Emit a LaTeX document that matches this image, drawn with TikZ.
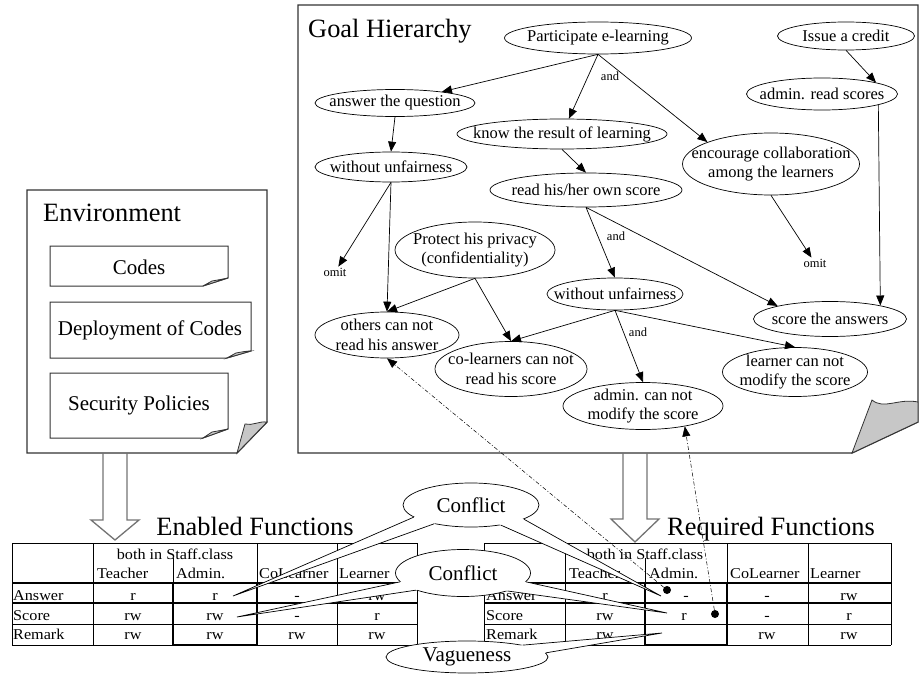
\documentclass[tikz,border=0pt]{standalone}
\usepackage{fontspec}
\setmainfont{Liberation Serif}
\newfontfamily\tabfont{Liberation Serif}[FakeStretch=1.08]
\usepackage{tikz}
\usetikzlibrary{shapes.geometric, arrows.meta, calc}

\begin{document}
\begin{tikzpicture}[x=1pt, y=-1pt]
	\useasboundingbox (0,0) rectangle (919,674);
	% Define styles
	\tikzstyle{page}=[draw=black!80, line width=1.4pt, fill=white, line join=miter]
	\tikzstyle{sheet}=[draw=black!80, line width=1pt, fill=white]
	\tikzstyle{curl}=[draw=black!80, line width=0.8pt, fill=black!22]
	\tikzstyle{heading}=[inner sep=0pt, font=\fontsize{26.4}{31}\selectfont]
	\tikzstyle{boxtext}=[inner sep=0pt, font=\fontsize{21}{25}\selectfont]
	\tikzstyle{goal}=[ellipse, draw, line width=0.7pt, inner sep=-30pt, align=center, font=\fontsize{16.5}{19.5}\selectfont]
	\tikzstyle{tag}=[inner sep=1pt, font=\fontsize{12.5}{15}\selectfont]
	\tikzstyle{imply}=[line width=0.7pt, -{Triangle[length=10pt, width=8pt]}]
	\tikzstyle{hollow}=[draw=black!55, line width=1.3pt, line join=miter]
	\tikzstyle{cell}=[inner sep=0pt, text height=11pt, text depth=3pt, font=\tabfont\fontsize{15}{18}\selectfont]
	\tikzstyle{gridline}=[line width=0.8pt]
	\tikzstyle{boldline}=[line width=2pt]
	\tikzstyle{claim}=[ellipse, draw, fill=white, line width=0.7pt, inner sep=-30pt, font=\fontsize{21}{25}\selectfont]
	\tikzstyle{spot}=[circle, fill=black, inner sep=0pt, minimum size=8pt]
	\tikzstyle{trace}=[line width=0.5pt, dash pattern=on 4pt off 2pt on 1pt off 2pt, -{Triangle[length=10pt, width=8pt]}]

	% Environment
	\draw[page] (27,190) -- (267,190) -- (267,422) -- (237,453) -- (27,453) -- cycle;
	\draw[curl] (237,453) -- (245,424) .. controls (252,426) and (259,421) .. (267,422) -- cycle;
	\node[heading, anchor=base west] (env) at (43,222) {Environment};

	\draw[sheet] (50,246) -- (228,246) -- (228,278) -- (203,286) -- (50,286) -- cycle;
	\draw[curl] (203,286) -- (212,281) .. controls (218,280) and (223,279) .. (228,278) -- cycle;
	\node[boxtext] (codes) at (139,267) {Codes};
	\draw[sheet] (50,302) -- (251,302) -- (251,351) -- (227,358) -- (50,358) -- cycle;
	\draw[curl] (227,358) -- (236,353) .. controls (242,352) and (246,351) .. (251,351) -- cycle;
	\node[boxtext] (deploy) at (150,330) {Deployment of Codes};
	\draw[sheet] (50,373) -- (228,373) -- (228,429) -- (203,438) -- (50,438) -- cycle;
	\draw[curl] (203,438) -- (212,432) .. controls (218,431) and (223,430) .. (228,429) -- cycle;
	\node[boxtext] (policy) at (139,405) {Security Policies};

	% Goal Hierarchy
	\draw[page] (298,5) -- (918,5) -- (918,422) -- (852,453) -- (298,453) -- cycle;
	\draw[curl] (852,453) -- (872,400) .. controls (884,410) and (898,398) .. (918,402) -- (918,422) -- cycle;
	\node[heading, anchor=base west] (goalh) at (308,38) {Goal Hierarchy};

	\node[goal, minimum width=187pt, minimum height=32pt] (part) at (598,38) {Participate e-learning};
	\node[goal, minimum width=137pt, minimum height=28pt] (issue) at (846,36) {Issue a credit};
	\node[goal, minimum width=151pt, minimum height=32pt] (admread) at (822,94) {admin. read scores};
	\node[goal, minimum width=160pt, minimum height=27pt] (answer) at (395,103) {answer the question};
	\node[goal, minimum width=210pt, minimum height=30pt] (know) at (562,134) {know the result of learning};
	\node[goal, minimum width=177pt, minimum height=62pt] (encourage) at (771,164) {encourage collaboration\\among the learners};
	\node[goal, minimum width=152pt, minimum height=30pt] (unfairA) at (391,167) {without unfairness};
	\node[goal, minimum width=192pt, minimum height=34pt] (readown) at (586,190) {read his/her own score};
	\node[goal, minimum width=160pt, minimum height=56pt] (protect) at (475,250) {Protect his privacy\\(confidentiality)};
	\node[goal, minimum width=136pt, minimum height=32pt] (unfairB) at (615,294) {without unfairness};
	\node[goal, minimum width=153pt, minimum height=35pt] (scoreans) at (830,319) {score the answers};
	\node[goal, minimum width=144pt, minimum height=46pt] (others) at (387,335) {others can not\\read his answer};
	\node[goal, minimum width=152pt, minimum height=55pt] (colearn) at (511,369) {co-learners can not\\read his score};
	\node[goal, minimum width=145pt, minimum height=49pt] (lrnmod) at (795,372) {learner can not\\modify the score};
	\node[goal, minimum width=160pt, minimum height=47pt] (admmod) at (643,406) {admin. can not\\modify the score};

	\node[tag] (omitA) at (335,272) {omit};
	\node[tag] (omitB) at (815,263) {omit};
	\node[tag] (andA) at (610,76) {and};
	\node[tag] (andB) at (616,236) {and};
	\node[tag] (andC) at (638,332) {and};

	\draw[imply] (part.south) -- (answer);
	\draw[imply] (part.south) -- (know);
	\draw[imply] (part.south) -- (encourage.161);
	\draw[imply] (issue.south) -- (admread.12);
	\draw[imply] (admread.349) -- (scoreans.15);
	\draw[imply] (answer.south) -- (unfairA.north);
	\draw[imply] (know.south) -- (readown.north);
	\draw[imply] (encourage.south) -- (omitB);
	\draw[imply] (unfairA.south) -- (omitA);
	\draw[imply] (unfairA.south) -- (others.north);
	\draw[imply] (protect.south) -- (others.north);
	\draw[imply] (protect.south) -- (colearn.north);
	\draw[imply] (readown.south) -- (unfairB.north);
	\draw[imply] (readown.south) -- (scoreans.166);
	\draw[imply] (unfairB.south) -- (colearn.north);
	\draw[imply] (unfairB.south) -- (admmod.north);
	\draw[imply] (unfairB.south) -- (lrnmod.north);

	% hollow arrows
	\draw[hollow] (103,453) -- (103,520) -- (91,520) -- (115,540) -- (139,520) -- (127,520) -- (127,453);
	\draw[hollow] (623,453) -- (623,519) -- (611,519) -- (635,542) -- (659,519) -- (647,519) -- (647,453);

	\node[heading, anchor=base] (enabled) at (255,535) {Enabled Functions};
	\node[heading, anchor=base] (required) at (771,535) {Required Functions};

	% Enabled Functions table
	\draw[gridline] (12,543) -- (417,543) (12,543) -- (12,645) (93,543) -- (93,645) (173,558) -- (173,583) (257,543) -- (257,645) (337,543) -- (337,645) (417,543) -- (417,645) (12,624) -- (417,624) (12,645) -- (417,645);
	\draw[boldline] (12,583) -- (417,583) (12,603) -- (417,603) (173,583) -- (173,645) (257,583) -- (257,645) (173,645) -- (257,645);
	\node[cell] (eboth) at (175,555) {both in Staff.class};
	\node[cell, anchor=west] (eteach) at (97,574) {Teacher};
	\node[cell, anchor=west] (eadm) at (176,574) {Admin.};
	\node[cell, anchor=west] (ecol) at (259,574) {CoLearner};
	\node[cell, anchor=west] (elrn) at (339,574) {Learner};
	\node[cell, anchor=west] (eans) at (13,596) {Answer};
	\node[cell, anchor=west] (escr) at (13,616) {Score};
	\node[cell, anchor=west] (erem) at (13,635) {Remark};
	\node[cell] (ea1) at (133,596) {r};
	\node[cell] (ea2) at (215,596) {r};
	\node[cell] (ea3) at (297,596) {-};
	\node[cell] (ea4) at (377,596) {rw};
	\node[cell] (es1) at (133,616) {rw};
	\node[cell] (es2) at (215,616) {rw};
	\node[cell] (es3) at (297,616) {-};
	\node[cell] (es4) at (377,616) {r};
	\node[cell] (er1) at (133,635) {rw};
	\node[cell] (er2) at (215,635) {rw};
	\node[cell] (er3) at (297,635) {rw};
	\node[cell] (er4) at (377,635) {rw};

	% Required Functions table
	\draw[gridline] (484,543) -- (891,543) (484,543) -- (484,645) (565,543) -- (565,645) (645,558) -- (645,583) (727,543) -- (727,645) (808,543) -- (808,645) (891,543) -- (891,645) (484,624) -- (891,624) (484,645) -- (891,645);
	\draw[boldline] (484,583) -- (891,583) (484,603) -- (891,603) (645,583) -- (645,645) (727,583) -- (727,645) (645,645) -- (727,645);
	\node[cell] (rboth) at (645,555) {both in Staff.class};
	\node[cell, anchor=west] (rteach) at (569,574) {Teacher};
	\node[cell, anchor=west] (radm) at (649,574) {Admin.};
	\node[cell, anchor=west] (rcol) at (730,574) {CoLearner};
	\node[cell, anchor=west] (rlrn) at (810,574) {Learner};
	\node[cell, anchor=west] (rans) at (486,596) {Answer};
	\node[cell, anchor=west] (rscr) at (486,616) {Score};
	\node[cell, anchor=west] (rrem) at (486,635) {Remark};
	\node[cell] (ra1) at (605,596) {r};
	\node[cell] (ra2) at (686,596) {-};
	\node[cell] (ra3) at (767,596) {-};
	\node[cell] (ra4) at (849,596) {rw};
	\node[cell] (rs1) at (605,616) {rw};
	\node[cell] (rs2) at (684,616) {r};
	\node[cell] (rs3) at (767,616) {-};
	\node[cell] (rs4) at (849,616) {r};
	\node[cell] (rr1) at (605,635) {rw};
	\node[cell] (rr3) at (767,635) {rw};
	\node[cell] (rr4) at (849,635) {rw};

	% callouts
	\node[claim, minimum width=136pt, minimum height=44pt] (conf1) at (471,505) {Conflict};
	\node[claim, minimum width=135pt, minimum height=47pt] (conf2) at (463,573) {Conflict};
	\node[claim, minimum width=162pt, minimum height=32pt] (vague) at (467,657) {Vagueness};
	\coordinate (tipA) at (233,596);
	\coordinate (tipB) at (661,596);
	\coordinate (tipC) at (237,617);
	\coordinate (tipD) at (667,613);
	\coordinate (tipE) at (662,633);

	\fill[white] ($(conf1.192)!0.2!(conf1.center)$) -- (conf1.192) -- (tipA) -- (conf1.207) -- ($(conf1.207)!0.2!(conf1.center)$) -- cycle;
	\draw[line width=0.7pt] (conf1.192) -- (tipA) -- (conf1.207);
	\fill[white] ($(conf1.326)!0.2!(conf1.center)$) -- (conf1.326) -- (tipB) -- (conf1.345) -- ($(conf1.345)!0.2!(conf1.center)$) -- cycle;
	\draw[line width=0.7pt] (conf1.326) -- (tipB) -- (conf1.345);
	\fill[white] ($(conf2.188)!0.2!(conf2.center)$) -- (conf2.188) -- (tipC) -- (conf2.200) -- ($(conf2.200)!0.2!(conf2.center)$) -- cycle;
	\draw[line width=0.7pt] (conf2.188) -- (tipC) -- (conf2.200);
	\fill[white] ($(conf2.338)!0.2!(conf2.center)$) -- (conf2.338) -- (tipD) -- (conf2.352) -- ($(conf2.352)!0.2!(conf2.center)$) -- cycle;
	\draw[line width=0.7pt] (conf2.338) -- (tipD) -- (conf2.352);
	\fill[white] ($(vague.3)!0.2!(vague.center)$) -- (vague.3) -- (tipE) -- (vague.12) -- ($(vague.12)!0.2!(vague.center)$) -- cycle;
	\draw[line width=0.7pt] (vague.3) -- (tipE) -- (vague.12);

	% traces back to the goals
	\node[spot] (spotA) at (667,590) {};
	\node[spot] (spotB) at (715,614) {};
	\draw[trace] (spotA) -- (others.south);
	\draw[trace] (spotB) -- (admmod.334);
\end{tikzpicture}
\end{document}
